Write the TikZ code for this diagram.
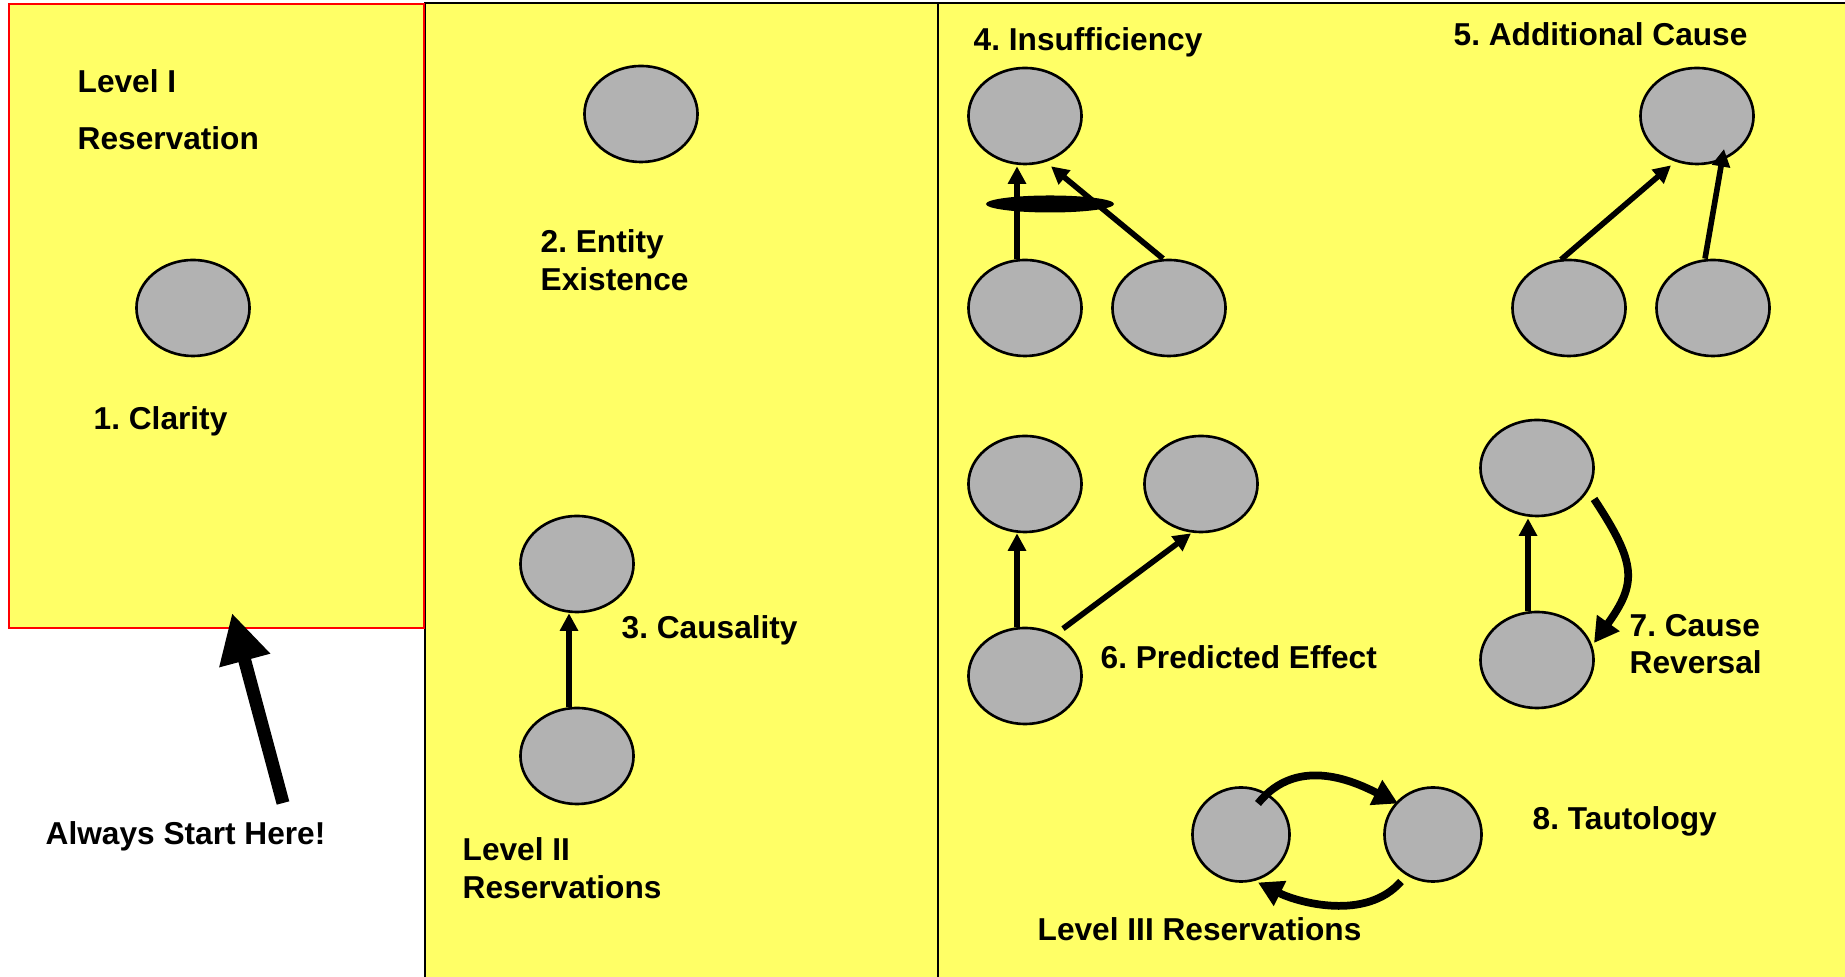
\documentclass[tikz,border=0pt]{standalone}
\usepackage{fontspec}
\setmainfont{Liberation Sans}
\usetikzlibrary{shapes.geometric,arrows.meta}
\definecolor{paneyellow}{HTML}{FFFF66}
\definecolor{nodegray}{HTML}{B2B2B2}
\frenchspacing
\begin{document}
\begin{tikzpicture}[x=0.01cm,y=-0.01cm,
  ent/.style={ellipse, draw=black, fill=nodegray, line width=0.75pt,
    minimum width=1.13cm, minimum height=0.96cm, inner sep=0pt},
  tent/.style={ent, minimum width=0.97cm, minimum height=0.94cm},
  lbl/.style={anchor=base west, inner sep=0pt,
    font=\fontsize{9}{11}\selectfont\bfseries},
  link/.style={line width=1.6pt, -{Triangle[length=5pt,width=5pt]}},
  bendlink/.style={line width=2.2pt, -{Triangle[length=7pt,width=7.5pt]}},
  pane/.style={fill=paneyellow, draw=black, line width=0.5pt}]
\useasboundingbox (0,0) rectangle (1845,977);
\fill[white] (0,0) rectangle (1845,977);

% panels
\draw[pane] (425,3) rectangle (938,990);
\draw[pane] (938,3) rectangle (1850,990);
\draw[fill=paneyellow, draw=red, line width=0.6pt] (9,4) rectangle (424,628);

% level I
\node[lbl] (lvla) at (77,93) {Level I};
\node[lbl] (lvlb) at (77,150) {Reservation};
\node[ent] (n1) at (193,308) {};
\node[lbl] (clar) at (93,430) {1. Clarity};

\node[lbl] (always) at (45,845) {Always Start Here!};
\coordinate (abase) at (283,803);
\coordinate (atip) at (232,613);
\draw[line width=3.7pt, -{Triangle[length=14pt,width=14pt]}] (abase) -- (atip);

% level II
\node[ent] (n2) at (641,114) {};
\node[lbl] (enta) at (540,253) {2. Entity};
\node[lbl] (entb) at (540,291) {Existence};

\node[ent] (n3t) at (577,564) {};
\node[ent] (n3b) at (577,756) {};
\draw[link] ([shift={(-8,0)}]n3b.north) -- ([shift={(-8,0)}]n3t.south);
\node[lbl] (caus) at (621,639) {3. Causality};
\node[lbl] (lvl2a) at (462,861) {Level II};
\node[lbl] (lvl2b) at (462,899) {Reservations};

% level III: insufficiency
\node[lbl] (insuf) at (973,51) {4. Insufficiency};
\node[ent] (n4t) at (1025,116) {};
\node[ent] (n4a) at (1025,308) {};
\node[ent] (n4b) at (1169,308) {};
\draw[link] ([shift={(-8,0)}]n4a.north) -- ([shift={(-8,1)}]n4t.south);
\draw[link] ([shift={(-6,0)}]n4b.north) -- ([shift={(26,1)}]n4t.south);
\node[ellipse, fill=black, minimum width=1.28cm, minimum height=0.17cm,
  inner sep=0pt] (andop) at (1050,204) {};

% additional cause
\node[lbl] (addc) at (1453,46) {5. Additional Cause};
\node[ent] (n5t) at (1697,116) {};
\node[ent] (n5a) at (1569,308) {};
\node[ent] (n5b) at (1713,308) {};
\draw[link] ([shift={(-8,1)}]n5a.north) -- ([shift={(-26,0)}]n5t.south);
\draw[link] ([shift={(-8,0)}]n5b.north) -- ([shift={(27,33)}]n5t.center);

% predicted effect
\node[ent] (n6t) at (1025,484) {};
\node[ent] (n6r) at (1201,484) {};
\node[ent] (n6b) at (1025,676) {};
\draw[link] ([shift={(-8,0)}]n6b.north) -- ([shift={(-8,0)}]n6t.south);
\draw[link] ([shift={(38,2)}]n6b.north) -- ([shift={(-10,0)}]n6r.south);
\node[lbl] (pred) at (1100,669) {6. Predicted Effect};

% cause reversal
\node[ent] (n7t) at (1537,468) {};
\node[ent] (n7b) at (1537,660) {};
\draw[link] ([shift={(-9,0)}]n7b.north) -- ([shift={(-9,1)}]n7t.south);
\draw[bendlink] ([shift={(57,31)}]n7t.center)
  .. controls +(43,65) and +(43,-60) .. ([shift={(57,-17)}]n7b.center);
\node[lbl] (cra) at (1629,637) {7. Cause};
\node[lbl] (crb) at (1629,674) {Reversal};

% tautology
\node[tent] (n8a) at (1241,834.5) {};
\node[tent] (n8b) at (1433,834.5) {};
\draw[bendlink] ([shift={(17,-31)}]n8a.center)
  .. controls +(40,-50) and +(-40,-20) .. ([shift={(-35,-31)}]n8b.center);
\draw[bendlink] ([shift={(-32,47)}]n8b.center)
  .. controls +(-35,40) and +(40,20) .. ([shift={(17,48)}]n8a.center);
\node[lbl] (taut) at (1532,830) {8. Tautology};
\node[lbl] (lvl3) at (1037,941) {Level III Reservations};
\end{tikzpicture}
\end{document}
